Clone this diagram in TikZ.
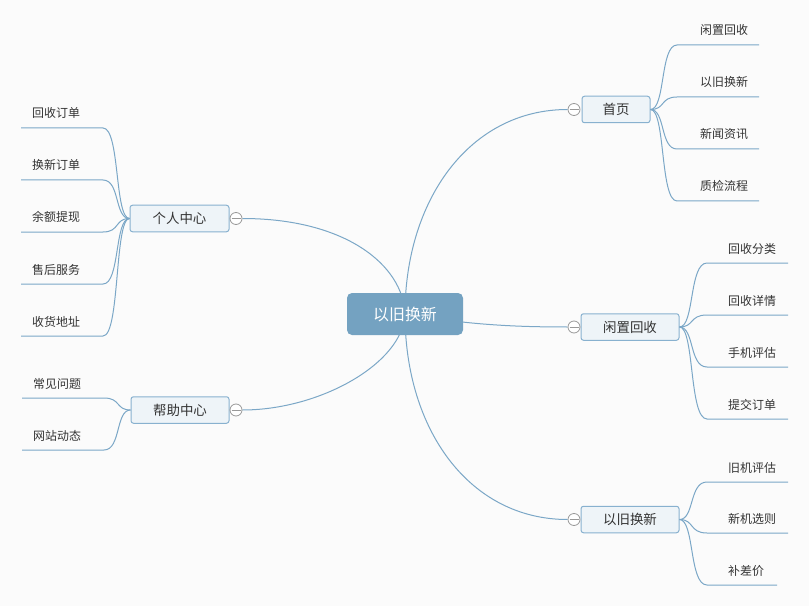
\documentclass[tikz,border=0pt]{standalone}
\usepackage{fontspec}
\setmainfont{Noto Sans CJK SC}
\usetikzlibrary{calc}
\pgfdeclarelayer{bg}
\pgfsetlayers{bg,main}
\definecolor{linec}{HTML}{7BA7C7}
\definecolor{centerfill}{HTML}{74A2C1}
\definecolor{branchfill}{HTML}{EEF4F8}
\definecolor{branchdraw}{HTML}{88B1CF}
\definecolor{textc}{HTML}{333333}
\definecolor{cgray}{HTML}{999999}
\definecolor{bgc}{HTML}{FBFBFB}
\tikzset{
  conn/.style={draw=linec, line width=1bp},
  centerbox/.style={rectangle, rounded corners=5bp, fill=centerfill, text=white,
    minimum width=116bp, minimum height=42bp, inner sep=0, font=\fontsize{16}{19}\selectfont},
  branchbox/.style={rectangle, rounded corners=2.5bp, draw=branchdraw, fill=branchfill,
    line width=1bp, text=textc, minimum height=26.5bp, inner sep=0,
    font=\fontsize{13.5}{16}\selectfont},
  leaftext/.style={anchor=base west, text=textc, inner sep=0, font=\fontsize{12}{14}\selectfont},
  collapse/.style={circle, draw=cgray, fill=white, minimum size=12bp, inner sep=0,
    line width=0.8bp,
    path picture={\draw[cgray, line width=0.9bp]
      ($(path picture bounding box.center)+(-4.5,0)$) -- ($(path picture bounding box.center)+(4.5,0)$);}}
}
\begin{document}
\begin{tikzpicture}[x=1bp, y=-1bp]
\useasboundingbox (0,0) rectangle (809,606);
\begin{pgfonlayer}{bg}
\fill[bgc] (0,0) rectangle (809,606);
\end{pgfonlayer}

% center
\node[centerbox] (c) at (405,314) {以旧换新};

% branches
\node[branchbox, minimum width=68bp] (b1) at (616,109.5) {首页};
\node[branchbox, minimum width=98bp] (b4) at (630,327) {闲置回收};
\node[branchbox, minimum width=98bp] (b5) at (630,519.5) {以旧换新};
\node[branchbox, minimum width=99bp] (b2) at (179.5,218.5) {个人中心};
\node[branchbox, minimum width=98bp] (b3) at (180,410) {帮助中心};

% collapse circles
\node[collapse] (k1) at (574,109.5) {};
\node[collapse] (k4) at (574,327) {};
\node[collapse] (k5) at (574,519.5) {};
\node[collapse] (k2) at (236,218.5) {};
\node[collapse] (k3) at (236,410) {};

% main connectors (behind)
\begin{pgfonlayer}{bg}
\draw[conn] (c.center) .. controls +(0,-114) and +(-98,0) .. (k1.west);
\draw[conn] (c.center) .. controls +(60,10) and +(-60,0) .. (k4.west);
\draw[conn] (c.center) .. controls +(0,116) and +(-98,0) .. (k5.west);
\draw[conn] (c.center) .. controls +(-2,-49) and +(103,0) .. (k2.east);
\draw[conn] (c.center) .. controls +(-2,49) and +(78,0) .. (k3.east);
\end{pgfonlayer}

% leaves of 首页
\node[leaftext] (h1) at (700,35) {闲置回收};
\node[leaftext] (h2) at (700,87) {以旧换新};
\node[leaftext] (h3) at (700,139) {新闻资讯};
\node[leaftext] (h4) at (700,191) {质检流程};
\coordinate (h1s) at (677,45);  \coordinate (h1e) at (759,45);
\coordinate (h2s) at (677,97);  \coordinate (h2e) at (759,97);
\coordinate (h3s) at (677,149); \coordinate (h3e) at (759,149);
\coordinate (h4s) at (677,201); \coordinate (h4e) at (759,201);
\draw[conn] (b1.east) .. controls +(15,0) and +(-17,0) .. (h1s) -- (h1e);
\draw[conn] (b1.east) .. controls +(15,0) and +(-17,0) .. (h2s) -- (h2e);
\draw[conn] (b1.east) .. controls +(15,0) and +(-17,0) .. (h3s) -- (h3e);
\draw[conn] (b1.east) .. controls +(15,0) and +(-17,0) .. (h4s) -- (h4e);

% leaves of 闲置回收
\node[leaftext] (x1) at (728,253) {回收分类};
\node[leaftext] (x2) at (728,305) {回收详情};
\node[leaftext] (x3) at (728,357) {手机评估};
\node[leaftext] (x4) at (728,409) {提交订单};
\coordinate (x1s) at (707,263); \coordinate (x1e) at (788,263);
\coordinate (x2s) at (707,315); \coordinate (x2e) at (788,315);
\coordinate (x3s) at (707,367); \coordinate (x3e) at (788,367);
\coordinate (x4s) at (707,419); \coordinate (x4e) at (788,419);
\draw[conn] (b4.east) .. controls +(15,0) and +(-18,0) .. (x1s) -- (x1e);
\draw[conn] (b4.east) .. controls +(15,0) and +(-18,0) .. (x2s) -- (x2e);
\draw[conn] (b4.east) .. controls +(15,0) and +(-18,0) .. (x3s) -- (x3e);
\draw[conn] (b4.east) .. controls +(15,0) and +(-18,0) .. (x4s) -- (x4e);

% leaves of 以旧换新
\node[leaftext] (y1) at (728,472) {旧机评估};
\node[leaftext] (y2) at (728,523) {新机选则};
\node[leaftext] (y3) at (728,575) {补差价};
\coordinate (y1s) at (707,482); \coordinate (y1e) at (788,482);
\coordinate (y2s) at (707,533); \coordinate (y2e) at (788,533);
\coordinate (y3s) at (707,585); \coordinate (y3e) at (777,585);
\draw[conn] (b5.east) .. controls +(15,0) and +(-18,0) .. (y1s) -- (y1e);
\draw[conn] (b5.east) .. controls +(15,0) and +(-18,0) .. (y2s) -- (y2e);
\draw[conn] (b5.east) .. controls +(15,0) and +(-18,0) .. (y3s) -- (y3e);

% leaves of 个人中心
\node[leaftext] (p1) at (32,118) {回收订单};
\node[leaftext] (p2) at (32,170) {换新订单};
\node[leaftext] (p3) at (32,222) {余额提现};
\node[leaftext] (p4) at (32,274) {售后服务};
\node[leaftext] (p5) at (32,326) {收货地址};
\coordinate (p1s) at (21,128); \coordinate (p1e) at (103,128);
\coordinate (p2s) at (21,180); \coordinate (p2e) at (103,180);
\coordinate (p3s) at (21,232); \coordinate (p3e) at (103,232);
\coordinate (p4s) at (21,284); \coordinate (p4e) at (103,284);
\coordinate (p5s) at (21,336); \coordinate (p5e) at (103,336);
\draw[conn] (b2.west) .. controls +(-15,0) and +(17,0) .. (p1e) -- (p1s);
\draw[conn] (b2.west) .. controls +(-15,0) and +(17,0) .. (p2e) -- (p2s);
\draw[conn] (b2.west) .. controls +(-15,0) and +(17,0) .. (p3e) -- (p3s);
\draw[conn] (b2.west) .. controls +(-15,0) and +(17,0) .. (p4e) -- (p4s);
\draw[conn] (b2.west) .. controls +(-15,0) and +(17,0) .. (p5e) -- (p5s);

% leaves of 帮助中心
\node[leaftext] (q1) at (33,388) {常见问题};
\node[leaftext] (q2) at (33,440) {网站动态};
\coordinate (q1s) at (22,398); \coordinate (q1e) at (104,398);
\coordinate (q2s) at (22,450); \coordinate (q2e) at (104,450);
\draw[conn] (b3.west) .. controls +(-15,0) and +(17,0) .. (q1e) -- (q1s);
\draw[conn] (b3.west) .. controls +(-15,0) and +(17,0) .. (q2e) -- (q2s);
\end{tikzpicture}
\end{document}
